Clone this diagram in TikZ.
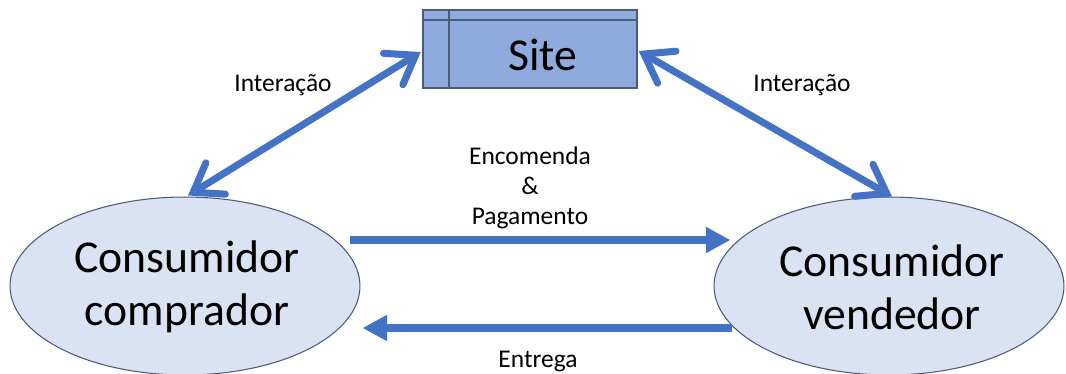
\documentclass[tikz,border=0pt]{standalone}
\usepackage{fontspec}
\setmainfont{Carlito}
\usepackage{tikz}
\usetikzlibrary{arrows.meta,shapes.geometric,calc}
\definecolor{arrowblue}{RGB}{68,114,196}
\definecolor{sitefill}{RGB}{143,170,220}
\definecolor{ovalfill}{RGB}{218,227,243}
\definecolor{edgegray}{RGB}{75,92,120}

\begin{document}
\begin{tikzpicture}[x=0.02cm,y=-0.02cm]
        \tikzstyle{every node}+=[inner sep=0pt]
        \tikzstyle{oval}=[ellipse, draw=edgegray, fill=ovalfill, line width=0.6pt, minimum width=7cm, minimum height=3.56cm]
        \tikzstyle{sitebox}=[rectangle, draw=edgegray, fill=sitefill, line width=0.8pt, minimum width=4.28cm, minimum height=1.56cm]
        \tikzstyle{bigtext}=[font=\fontsize{26}{30}\selectfont, align=center]
        \tikzstyle{smalltext}=[font=\fontsize{14.5}{17}\selectfont, align=center]
        \tikzstyle{twoway}=[draw=arrowblue, line width=4pt, line cap=round, {Straight Barb[length=15pt,width=21pt,line cap=round]}-{Straight Barb[length=15pt,width=21pt,line cap=round]}]
        \tikzstyle{oneway}=[draw=arrowblue, line width=4pt, -{Triangle[length=14pt,width=14pt]}]
        \useasboundingbox (0,0) rectangle (1066,373);
        % site
        \node [sitebox] (site) at (530,49) {};
        \draw [edgegray, line width=0.8pt] (449,10) -- (449,88);
        \draw [edgegray, line width=0.8pt] (423,20) -- (637,20);
        \node [bigtext] (sitetxt) at (543,55) {Site};
        % consumers
        \node [oval] (buyer) at (185,286) {};
        \node [bigtext] (buyertxt) at (187,287) {Consumidor\\comprador};
        \node [oval] (seller) at (889,286) {};
        \node [bigtext] (sellertxt) at (892,287) {Consumidor\\vendedor};
        % arrows
        \draw [twoway] ([xshift=-0.03cm,yshift=-0.06cm]site.west) -- ([xshift=0.06cm,yshift=0.02cm]buyer.north);
        \draw [twoway] ([xshift=0.02cm,yshift=-0.04cm]site.east) -- ([xshift=0.06cm]seller.north);
        \coordinate (orderA) at ($(buyer.east)+(-10,-46)$);
        \coordinate (orderB) at ($(seller.west)+(17,-46)$);
        \draw [oneway] (orderA) -- (orderB);
        \coordinate (shipA) at ($(seller.west)+(18,42)$);
        \coordinate (shipB) at ($(buyer.east)+(2,42)$);
        \draw [oneway] (shipA) -- (shipB);
        % labels
        \node [smalltext] (int1) at (283,85) {Interação};
        \node [smalltext] (int2) at (802,85) {Interação};
        \node [smalltext] (order) at (530,188) {Encomenda\\\&\\Pagamento};
        \node [smalltext] (ship) at (538,362) {Entrega};
\end{tikzpicture}
\end{document}
